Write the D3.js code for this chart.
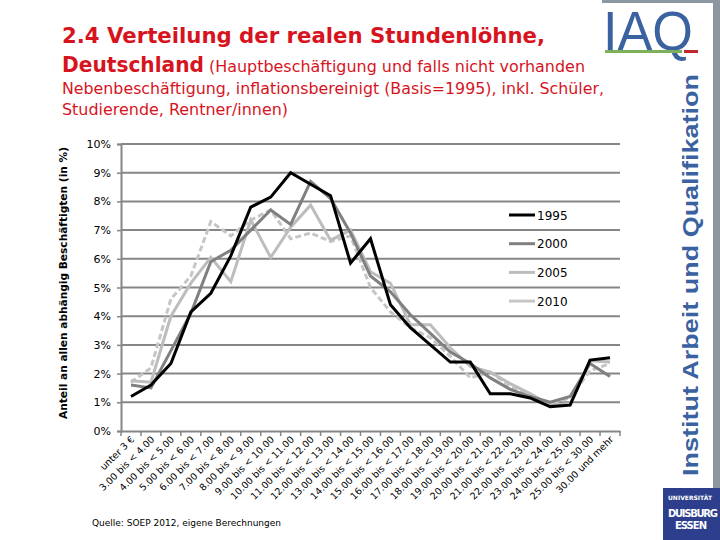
<!DOCTYPE html>
<html><head><meta charset="utf-8">
<script src="https://cdn.jsdelivr.net/npm/d3@7"></script>
<style>body{margin:0;background:#fff}svg{display:block}</style>
</head><body><svg id="c" width="720" height="540"></svg>
<script>
const categories = ["unter 3 €","3.00 bis < 4.00","4.00 bis < 5.00","5.00 bis < 6.00","6.00 bis < 7.00","7.00 bis < 8.00","8.00 bis < 9.00","9.00 bis < 10.00","10.00 bis < 11.00","11.00 bis < 12.00","12.00 bis < 13.00","13.00 bis < 14.00","14.00 bis < 15.00","15.00 bis < 16.00","16.00 bis < 17.00","17.00 bis < 18.00","18.00 bis < 19.00","19.00 bis < 20.00","20.00 bis < 21.00","21.00 bis < 22.00","22.00 bis < 23.00","23.00 bis < 24.00","24.00 bis < 25.00","25.00 bis < 30.00","30.00 und mehr"];
const s1995 = [1.2,1.6,2.35,4.15,4.8,6.1,7.8,8.15,9.0,8.6,8.2,5.85,6.7,4.4,3.6,3.0,2.4,2.4,1.3,1.3,1.15,0.85,0.9,2.47,2.55];
const s2000 = [1.6,1.5,2.8,4.1,5.9,6.3,7.0,7.7,7.2,8.7,8.1,6.9,5.4,4.85,4.05,3.4,2.75,2.35,1.85,1.45,1.2,1.0,1.2,2.35,1.9];
const s2005 = [1.75,1.7,4.0,5.15,6.05,5.2,7.35,6.05,7.1,7.87,6.65,7.0,5.55,5.15,3.7,3.7,2.9,2.25,2.05,1.65,1.3,0.9,0.95,2.45,2.4];
const s2010 = [1.7,2.2,4.6,5.4,7.3,6.8,7.35,7.7,6.7,6.9,6.6,6.8,5.0,4.15,3.6,3.25,2.6,1.85,2.05,1.55,1.25,0.95,1.15,2.1,2.35];
const seriesNames = ["1995","2000","2005","2010"];
const yTicks = [0,1,2,3,4,5,6,7,8,9,10];

const series = [
  {name:seriesNames[0], values:s1995, color:"#000000", width:3, dash:null},
  {name:seriesNames[1], values:s2000, color:"#808080", width:3, dash:null},
  {name:seriesNames[2], values:s2005, color:"#bdbdbd", width:3, dash:null},
  {name:seriesNames[3], values:s2010, color:"#c6c6c6", width:3, dash:"6,3"}
];

const svg = d3.select("#c");
const red = "#d7141e", blue = "#3b62a0";
const F = "'DejaVu Sans', Verdana, sans-serif";

// Title
const t = svg.append("g").attr("fill", red).attr("font-family", F);
t.append("text").attr("x",62).attr("y",43).attr("font-size",21).attr("font-weight","bold")
 .attr("textLength",483).attr("lengthAdjust","spacingAndGlyphs").text("2.4 Verteilung der realen Stundenlöhne,");
t.append("text").attr("x",62).attr("y",72).attr("font-size",21).attr("font-weight","bold")
 .attr("textLength",142).attr("lengthAdjust","spacingAndGlyphs").text("Deutschland");
t.append("text").attr("x",209).attr("y",72).attr("font-size",15)
 .attr("textLength",376).attr("lengthAdjust","spacingAndGlyphs").text("(Hauptbeschäftigung und falls nicht vorhanden");
t.append("text").attr("x",62).attr("y",94).attr("font-size",15)
 .attr("textLength",542).attr("lengthAdjust","spacingAndGlyphs").text("Nebenbeschäftigung,  inflationsbereinigt (Basis=1995), inkl. Schüler,");
t.append("text").attr("x",62).attr("y",115).attr("font-size",15)
 .attr("textLength",226).attr("lengthAdjust","spacingAndGlyphs").text("Studierende, Rentner/innen)");

// Scales
const x = d3.scaleBand().domain(categories).range([121,620]);
const y = d3.scaleLinear().domain([0,10]).range([431,144]);
const cx = d => x(d) + x.bandwidth()/2;

// Gridlines
svg.append("g").selectAll("line").data(yTicks.slice(1)).join("line")
  .attr("x1",121).attr("x2",620).attr("y1",d=>y(d)).attr("y2",d=>y(d))
  .attr("stroke","#868686").attr("stroke-width",2);

// Y axis
const yAx = svg.append("g").attr("transform","translate(121,0)")
  .call(d3.axisLeft(y).tickValues(yTicks).tickFormat(d=>d+"%").tickSize(4).tickPadding(6));
yAx.select(".domain").attr("stroke","#868686").attr("stroke-width",2);
yAx.selectAll(".tick line").attr("stroke","#868686").attr("stroke-width",1.5);
yAx.selectAll("text").attr("font-family",F).attr("font-size",11).attr("fill","#000");

// X axis
const xAx = svg.append("g").attr("transform","translate(0,431)")
  .call(d3.axisBottom(x).tickSize(0).tickFormat(""));
xAx.select(".domain").attr("stroke","#868686").attr("stroke-width",2);
svg.append("g").selectAll("line").data(categories.concat([null])).join("line")
  .attr("x1",(d,i)=>d===null?620:x(d)).attr("x2",(d,i)=>d===null?620:x(d))
  .attr("y1",431).attr("y2",436).attr("stroke","#868686").attr("stroke-width",1.5);
svg.append("g").selectAll("text").data(categories).join("text")
  .attr("transform",d=>`translate(${cx(d)+4},440) rotate(-45)`)
  .attr("text-anchor","end").attr("font-family",F).attr("font-size",9.5).attr("fill","#000")
  .text(d=>d);

// Y title
svg.append("text").attr("transform","translate(67,283) rotate(-90)").attr("text-anchor","middle")
  .attr("font-family",F).attr("font-size",10.5).attr("font-weight","bold")
  .attr("textLength",272).attr("lengthAdjust","spacingAndGlyphs")
  .text("Anteil an allen abhängig Beschäftigten (in %)");

// Lines
const line = d3.line().x((d,i)=>cx(categories[i])).y(d=>y(d));
svg.append("g").selectAll("path").data(series.slice().reverse()).join("path")
  .attr("d",d=>line(d.values)).attr("fill","none").attr("stroke",d=>d.color)
  .attr("stroke-width",d=>d.width).attr("stroke-dasharray",d=>d.dash)
  .attr("stroke-linejoin","miter");

// Legend
const lg = svg.append("g").selectAll("g").data(series).join("g")
  .attr("transform",(d,i)=>`translate(509,${215+i*28.7})`);
lg.append("rect").attr("x",-3).attr("y",-9).attr("width",70).attr("height",18).attr("fill","#fff");
lg.append("line").attr("x1",0).attr("x2",26).attr("stroke",d=>d.color).attr("stroke-width",d=>d.width);
lg.append("text").attr("x",28).attr("y",4.5).attr("font-family",F).attr("font-size",12).text(d=>d.name);

// Source
svg.append("text").attr("x",92).attr("y",526).attr("font-family",F).attr("font-size",9)
  .text("Quelle: SOEP 2012, eigene Berechnungen");

// Right branding
svg.append("rect").attr("x",602).attr("y",0).attr("width",118).attr("height",3).attr("fill","#8c96a0");
svg.append("rect").attr("x",713).attr("y",0).attr("width",7).attr("height",540).attr("fill","#8c96a0");
svg.append("text").attr("x",603).attr("y",50).attr("font-family","'Liberation Sans', Arial, sans-serif")
  .attr("font-size",56).attr("fill",blue).attr("textLength",90).attr("lengthAdjust","spacingAndGlyphs").text("IAQ");
svg.append("rect").attr("x",605).attr("y",50).attr("width",77).attr("height",3).attr("fill","#7db05a");
svg.append("rect").attr("x",684).attr("y",50).attr("width",14).attr("height",3).attr("fill","#c0282d");
svg.append("text").attr("transform","translate(698,275) rotate(-90)").attr("text-anchor","middle")
  .attr("font-family","'Liberation Sans', Arial, sans-serif").attr("font-weight","bold").attr("font-size",22)
  .attr("fill",blue).attr("textLength",402).attr("lengthAdjust","spacingAndGlyphs")
  .text("Institut Arbeit und Qualifikation");
svg.append("rect").attr("x",663).attr("y",488).attr("width",57).attr("height",52).attr("fill","#2c3e8c");
svg.append("text").attr("x",668).attr("y",500).attr("font-family",F).attr("font-weight","bold").attr("font-size",6)
  .attr("fill","#fff").attr("textLength",44).attr("lengthAdjust","spacing").text("UNIVERSITÄT");
svg.append("text").attr("x",668).attr("y",517).attr("font-family",F).attr("font-weight","bold").attr("font-size",10)
  .attr("fill","#fff").attr("textLength",50).attr("lengthAdjust","spacing").text("DUISBURG");
svg.append("text").attr("x",675).attr("y",529).attr("font-family",F).attr("font-weight","bold").attr("font-size",10)
  .attr("fill","#fff").attr("textLength",32).attr("lengthAdjust","spacing").text("ESSEN");
</script></body></html>
